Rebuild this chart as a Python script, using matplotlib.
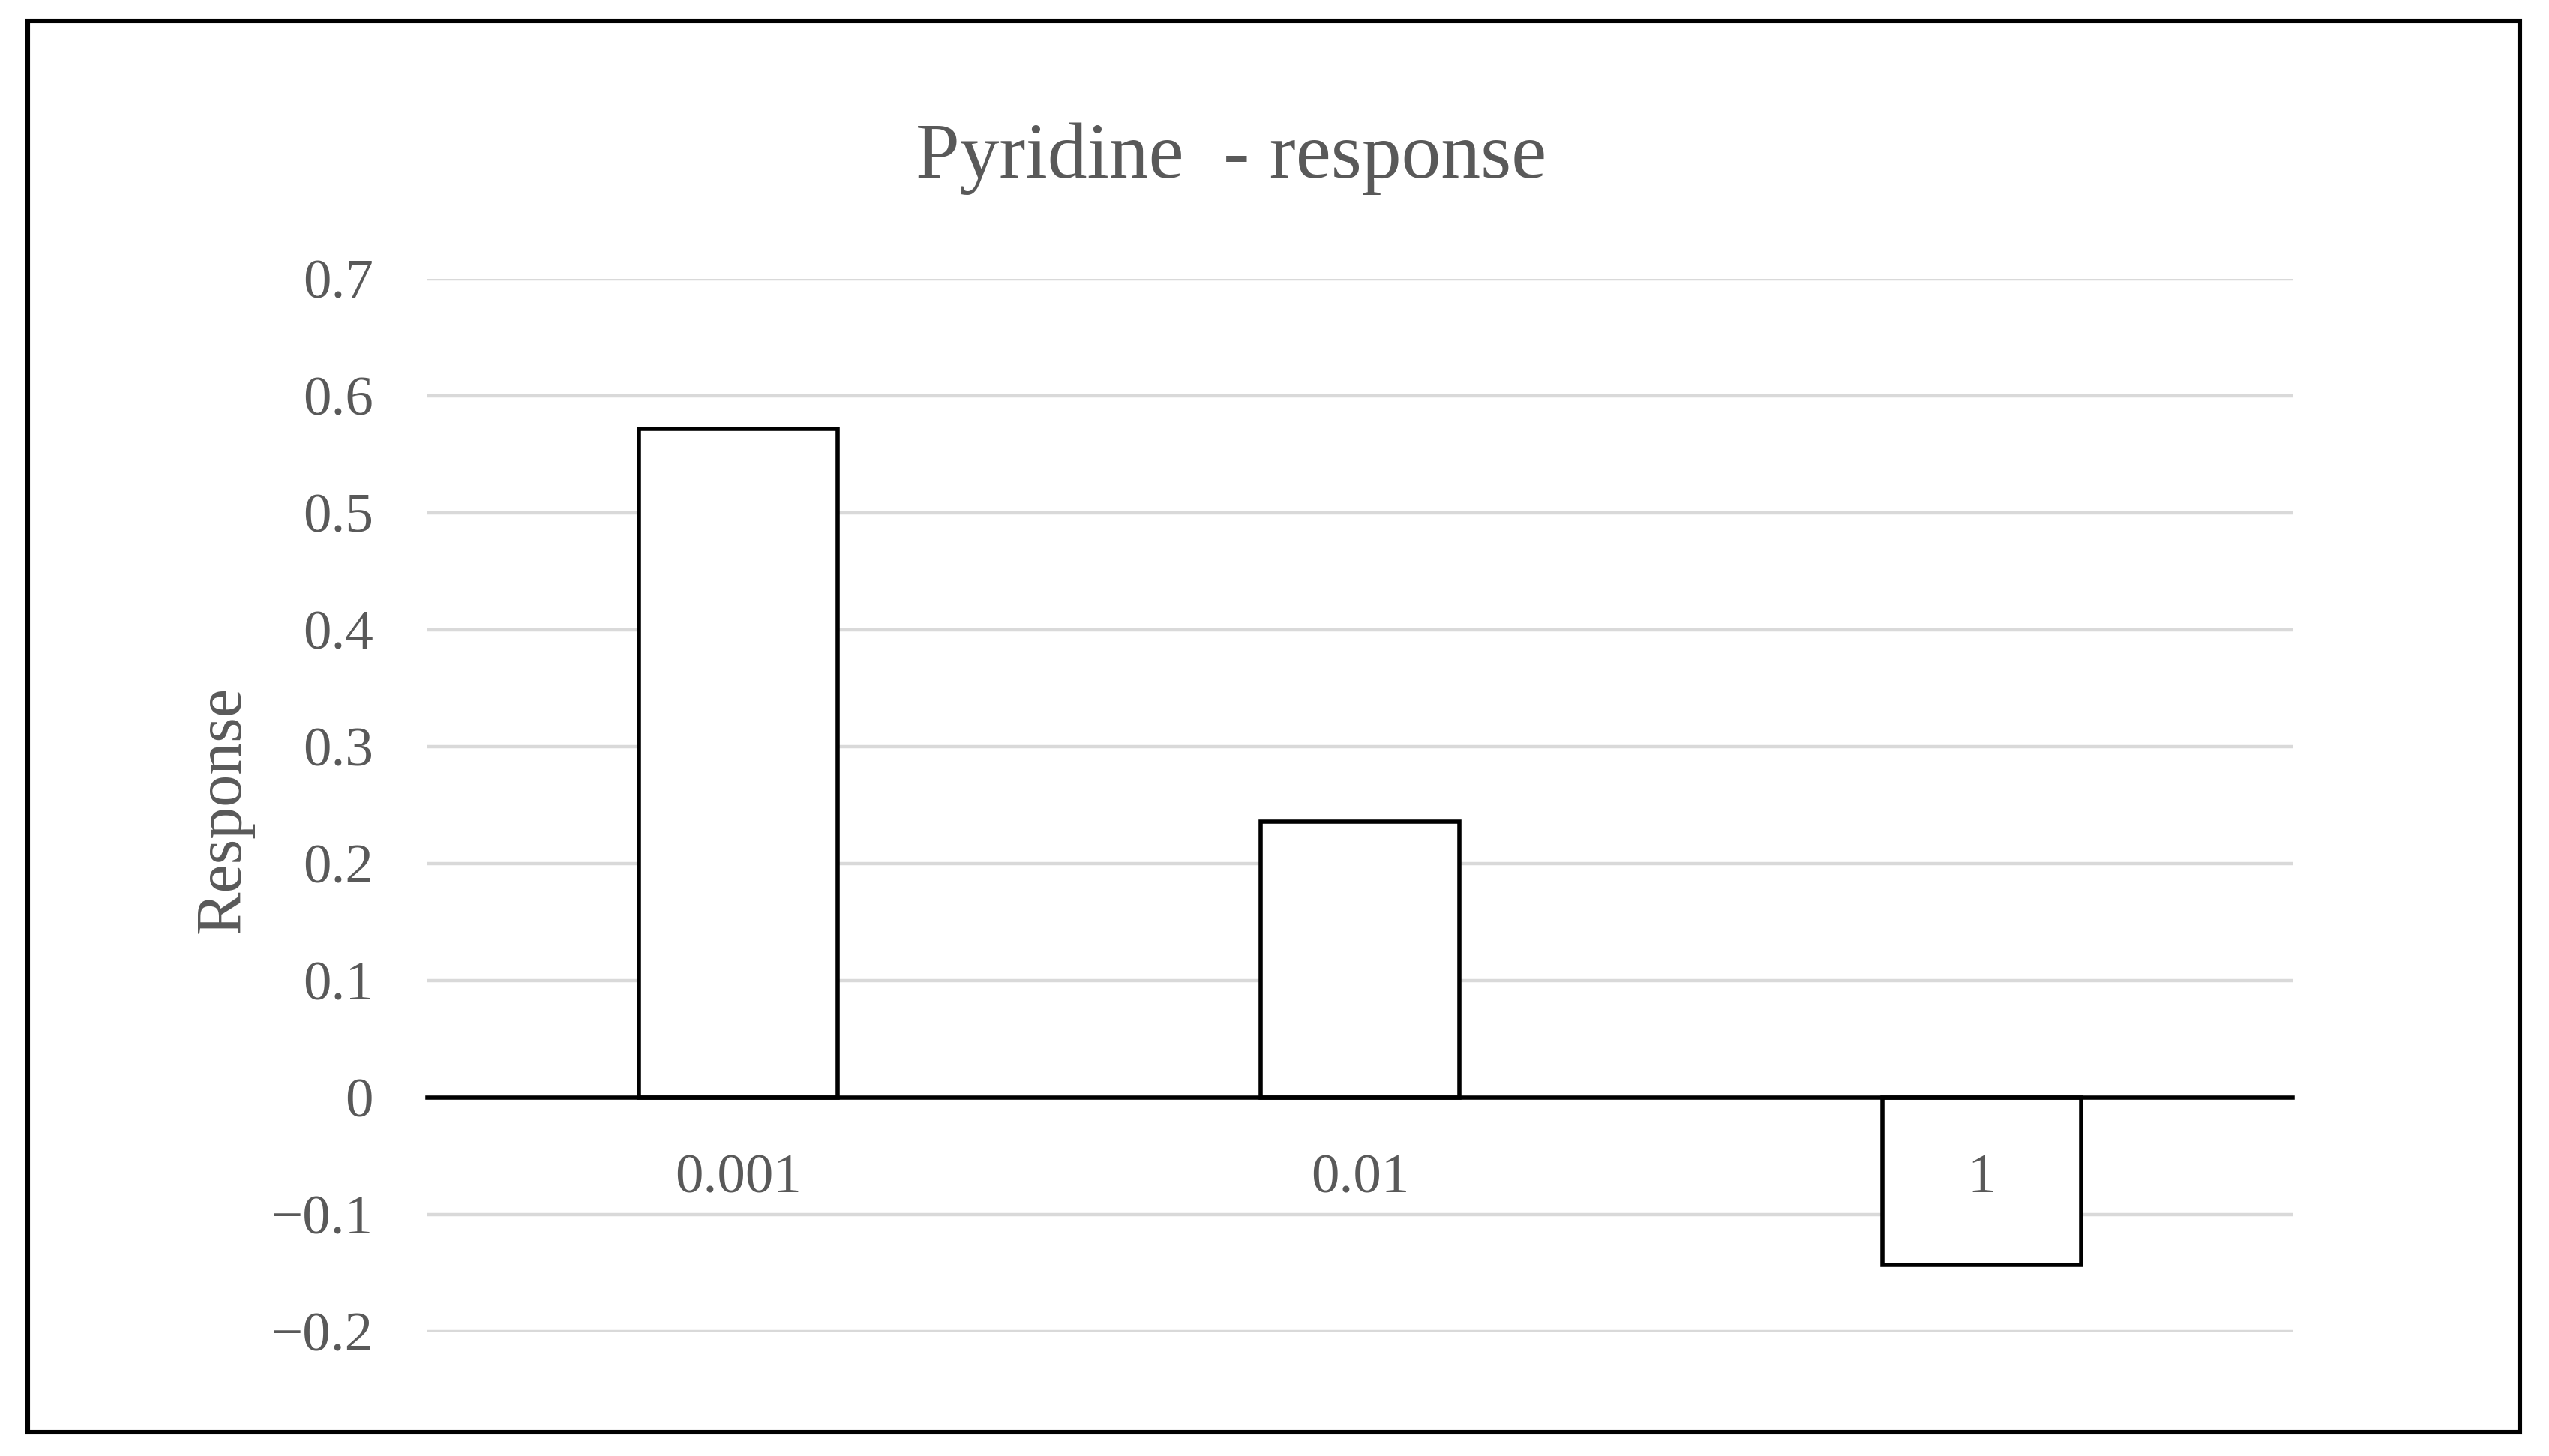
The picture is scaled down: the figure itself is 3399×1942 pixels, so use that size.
import matplotlib.pyplot as plt
from matplotlib.patches import Rectangle

# datos
concentraciones = ["0.001", "0.01", "1"]
respuesta = [0.572, 0.236, -0.143]
y_ticks = [-0.2, -0.1, 0, 0.1, 0.2, 0.3, 0.4, 0.5, 0.6, 0.7]
y_tick_labels = ["\u22120.2", "\u22120.1", "0", "0.1", "0.2", "0.3", "0.4", "0.5", "0.6", "0.7"]

plt.rcParams['font.family'] = ['Liberation Serif', 'DejaVu Serif']
gris = "#595959"

fig = plt.figure(figsize=(16.995, 9.71), dpi=200)
ax = fig.add_axes([0.1677, 0.0855, 0.7317, 0.7229])

x = range(len(concentraciones))
ax.bar(x, respuesta, width=0.32, color="white", edgecolor="black",
       linewidth=2.0, zorder=3)

ax.set_xlim(-0.5, len(concentraciones) - 0.5)
ax.set_ylim(-0.2, 0.7)
ax.set_yticks(y_ticks)
ax.set_yticklabels(y_tick_labels)
ax.set_xticks(list(x))
ax.set_xticklabels(concentraciones)

ax.grid(axis="y", color="#d9d9d9", linewidth=1.6, zorder=0)
ax.set_axisbelow(True)
# las etiquetas del eje x van encima de las barras (el "1" cae dentro de la barra)
ax.xaxis.set_zorder(5)

for s in ["top", "left", "right"]:
    ax.spines[s].set_visible(False)
ax.spines["bottom"].set_position(("data", 0))
ax.spines["bottom"].set_linewidth(2.0)
ax.spines["bottom"].set_zorder(4)

ax.tick_params(axis="x", length=0, pad=27, labelsize=27, labelcolor=gris)
ax.tick_params(axis="y", length=0, pad=26, labelsize=27, labelcolor=gris)

fig.text(0.483, 0.891, "Pyridine  - response", ha="center", va="center",
         fontsize=38, color=gris)
fig.text(0.088, 0.444, "Response", ha="center", va="center", rotation=90,
         fontsize=31, color=gris)

# marco alrededor de la figura
fig.patches.append(Rectangle((0.0109, 0.0165), 0.9776, 0.9691,
                             transform=fig.transFigure, fill=False,
                             edgecolor="black", linewidth=2.2))

fig.savefig("out.png", dpi=200)
